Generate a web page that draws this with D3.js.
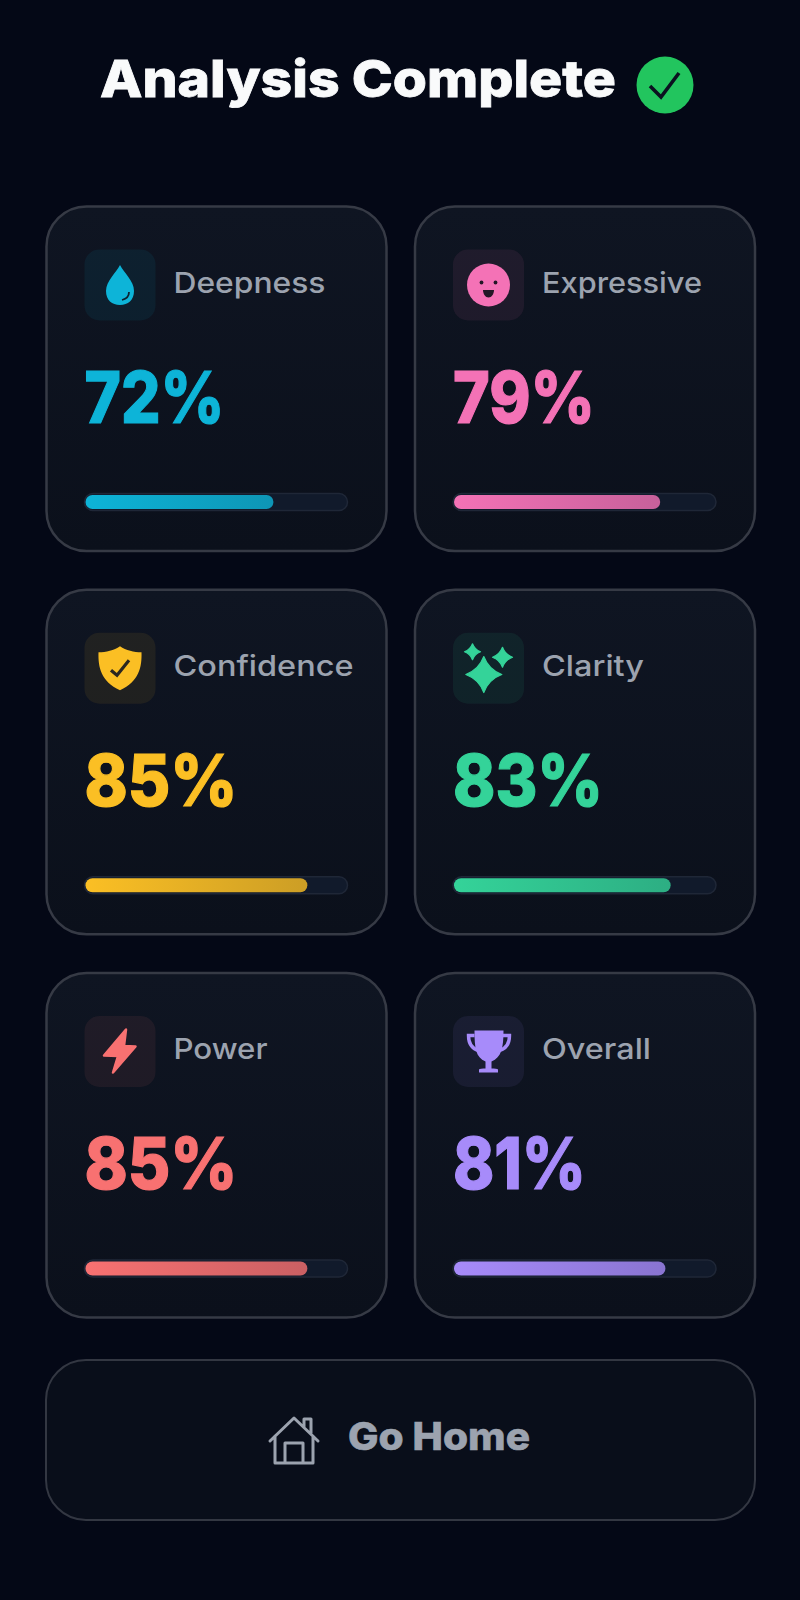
<!DOCTYPE html>
<html>
<head>
<meta charset="utf-8">
<script src="https://cdn.jsdelivr.net/npm/d3@7"></script>
<style>
  html, body { margin: 0; padding: 0; background: #040816; }
  svg { display: block; }
  text { font-family: Inter, "Noto Sans", sans-serif; }
</style>
</head>
<body>
<div id="chart"></div>
<script>
const categories = ['Deepness', 'Expressive', 'Confidence', 'Clarity', 'Power', 'Overall'];
const scores = [72, 79, 85, 83, 85, 81];
const colors = ['#0db4d8', '#f472b6', '#fbbf24', '#34d399', '#f87171', '#a78bfa'];
const titleText = 'Analysis Complete';
const buttonText = 'Go Home';

const width = 800, height = 1600;
const cardW = 340, cardH = 345, barW = 263, iconSize = 71;
// Poppins is not installed, so the text is fitted to the widths it has in the picture
const labelFit = [152, 160, 180, 102, 94, 109];
const scoreFit = [140, 142, 153, 150, 153, 133];

let svg = d3.select('#chart').append('svg')
  .attr('width', width)
  .attr('height', height);
let defs = svg.append('defs');

svg.append('rect').attr('width', width).attr('height', height).attr('fill', '#040816');

let cardGrad = defs.append('linearGradient').attr('id', 'cardGrad')
  .attr('x1', 0).attr('y1', 0).attr('x2', 0).attr('y2', 1);
cardGrad.append('stop').attr('offset', '0%').attr('stop-color', '#0f1522');
cardGrad.append('stop').attr('offset', '100%').attr('stop-color', '#0b101b');

colors.forEach((c, i) => {
  let g = defs.append('linearGradient').attr('id', 'barGrad' + i);
  g.append('stop').attr('offset', '0%').attr('stop-color', c);
  g.append('stop').attr('offset', '100%').attr('stop-color', c).attr('stop-opacity', 0.8);
});

// title
svg.append('text')
  .attr('x', 100).attr('y', 97)
  .attr('font-size', 51).attr('font-weight', 800)
  .attr('fill', '#f9fafb')
  .attr('stroke', '#f9fafb').attr('stroke-width', 0.8)
  .attr('textLength', 516).attr('lengthAdjust', 'spacingAndGlyphs')
  .text(titleText);
svg.append('circle').attr('cx', 665).attr('cy', 85).attr('r', 28.5).attr('fill', '#22c55e');
svg.append('path')
  .attr('d', 'M650 86 L661 97 L679 73')
  .attr('fill', 'none').attr('stroke', '#0b1220').attr('stroke-width', 3.6);

// grid of cards
let col = d3.scalePoint().domain([0, 1]).range([45.5, 414]);
let row = d3.scalePoint().domain([0, 1, 2]).range([206.5, 973]);
let x = d3.scaleLinear().domain([0, 100]).range([0, barW - 2]);

let cards = svg.selectAll('g.card')
  .data(categories.map((name, i) => ({ name, value: scores[i], color: colors[i], i })))
  .enter().append('g')
  .attr('class', 'card')
  .attr('transform', d => 'translate(' + col(d.i % 2) + ',' + row(Math.floor(d.i / 2)) + ')');

cards.append('rect')
  .attr('x', 1)
  .attr('width', cardW).attr('height', cardH - 0.5).attr('rx', 40)
  .attr('fill', 'url(#cardGrad)')
  .attr('stroke', '#363a45').attr('stroke-width', 2.5);

cards.append('rect')
  .attr('x', 39).attr('y', 43)
  .attr('width', iconSize).attr('height', iconSize).attr('rx', 15)
  .attr('fill', d => d.color).attr('fill-opacity', 0.08);

cards.append('text')
  .attr('x', 128).attr('y', 86)
  .attr('font-size', 29).attr('font-weight', 500)
  .attr('fill', '#9ca3af')
  .attr('textLength', d => labelFit[d.i]).attr('lengthAdjust', 'spacingAndGlyphs')
  .text(d => d.name);

cards.append('text')
  .attr('x', 39).attr('y', 216)
  .attr('font-size', 72).attr('font-weight', 800)
  .attr('fill', d => d.color)
  .attr('stroke', d => d.color).attr('stroke-width', 1.2)
  .attr('textLength', d => scoreFit[d.i]).attr('lengthAdjust', 'spacingAndGlyphs')
  .text(d => d.value + '%');

// progress bars
cards.append('rect')
  .attr('x', 39).attr('y', 287)
  .attr('width', barW).attr('height', 17).attr('rx', 8.5)
  .attr('fill', '#111a2b')
  .attr('stroke', '#1f2737').attr('stroke-width', 1.5);
cards.append('rect')
  .attr('x', 40).attr('y', 288.5)
  .attr('width', d => x(d.value)).attr('height', 14).attr('rx', 7)
  .attr('fill', d => 'url(#barGrad' + d.i + ')');

// icons, drawn around the centre of each icon box
let icons = cards.append('g')
  .attr('transform', 'translate(74.5,78.5)')
  .attr('fill', d => d.color);

// drop
d3.select(icons.nodes()[0]).call(g => {
  g.append('path').attr('d', 'M0 -20 C4 -12 14 -4 14 6 C14 15 8 20 0 20 C-8 20 -14 15 -14 6 C-14 -4 -4 -12 0 -20 Z');
  g.append('path').attr('d', 'M9 7 C9 12 6 14 2 15')
    .attr('fill', 'none').attr('stroke', '#0c2230').attr('stroke-width', 1.8);
});

// smile
d3.select(icons.nodes()[1]).call(g => {
  g.append('circle').attr('r', 21.5);
  g.append('circle').attr('cx', -7).attr('cy', -2.5).attr('r', 1.9).attr('fill', '#231726');
  g.append('circle').attr('cx', 7).attr('cy', -2.5).attr('r', 1.9).attr('fill', '#231726');
  g.append('path').attr('d', 'M-5.5 5 L5.5 5 C5.5 9 3 12.5 0 12.5 C-3 12.5 -5.5 9 -5.5 5 Z').attr('fill', '#231726');
});

// shield
d3.select(icons.nodes()[2]).call(g => {
  g.append('path').attr('d', 'M0 -22 C6 -18 14 -16 21.5 -16 C22 -1 19 13 0 22 C-19 13 -22 -1 -21.5 -16 C-14 -16 -6 -18 0 -22 Z');
  g.append('path').attr('d', 'M-9 2 L-3 7 L9 -8')
    .attr('fill', 'none').attr('stroke', '#2a2620').attr('stroke-width', 3.2);
});

// sparkles
function star(cx, cy, r) {
  let k = r * 0.27;
  return 'M' + cx + ' ' + (cy - r) +
    ' Q' + (cx + k) + ' ' + (cy - k) + ' ' + (cx + r) + ' ' + cy +
    ' Q' + (cx + k) + ' ' + (cy + k) + ' ' + cx + ' ' + (cy + r) +
    ' Q' + (cx - k) + ' ' + (cy + k) + ' ' + (cx - r) + ' ' + cy +
    ' Q' + (cx - k) + ' ' + (cy - k) + ' ' + cx + ' ' + (cy - r) + ' Z';
}
d3.select(icons.nodes()[3]).call(g => {
  g.append('path').attr('d', star(-4.7, 6.3, 18));
  g.append('path').attr('d', star(-16, -16.5, 8));
  g.append('path').attr('d', star(14, -11, 10));
  g.selectAll('path').attr('stroke', d => d.color).attr('stroke-width', 1.2).attr('stroke-linejoin', 'round');
});

// bolt
d3.select(icons.nodes()[4]).call(g => {
  g.append('path').attr('d', 'M6 -22 L-16 4 L-2 4.5 L-7 21 L15.5 -5 L4 -5.5 Z')
    .attr('stroke', d => d.color).attr('stroke-width', 2.5).attr('stroke-linejoin', 'round');
});

// trophy
d3.select(icons.nodes()[5]).call(g => {
  g.append('path').attr('d', 'M-14 -21 L15 -21 C15 -4 13 6 3 10 L3 17 C6 17 9 17 9.5 18 L9.5 21 L-9.5 21 L-9.5 18 C-9 17 -6 17 -3 17 L-3 10 C-13 6 -14 -4 -14 -21 Z');
  g.append('path').attr('d', 'M-14 -16 L-20 -16 C-20 -8 -17 -3 -10 -1 M14 -16 L21 -16 C21 -8 18 -3 11 -1')
    .attr('fill', 'none').attr('stroke', d => d.color).attr('stroke-width', 3.4);
});

// go home button
svg.append('rect')
  .attr('x', 46).attr('y', 1360).attr('width', 709).attr('height', 160).attr('rx', 40)
  .attr('fill', '#090e1a')
  .attr('stroke', '#333742').attr('stroke-width', 2);
svg.append('path')
  .attr('d', 'M270 1441 L294 1418 L318 1441 M275 1436 L275 1463 L313 1463 L313 1436 M285 1463 L285 1443 L303 1443 L303 1463 M304 1427 L304 1419 L311 1419 L311 1433')
  .attr('fill', 'none').attr('stroke', '#9ca3af').attr('stroke-width', 3)
  .attr('stroke-linejoin', 'round').attr('stroke-linecap', 'round');
svg.append('text')
  .attr('x', 348).attr('y', 1450)
  .attr('font-size', 38).attr('font-weight', 800)
  .attr('fill', '#9ca3af')
  .attr('stroke', '#9ca3af').attr('stroke-width', 0.6)
  .attr('textLength', 182).attr('lengthAdjust', 'spacingAndGlyphs')
  .text(buttonText);
</script>
</body>
</html>
